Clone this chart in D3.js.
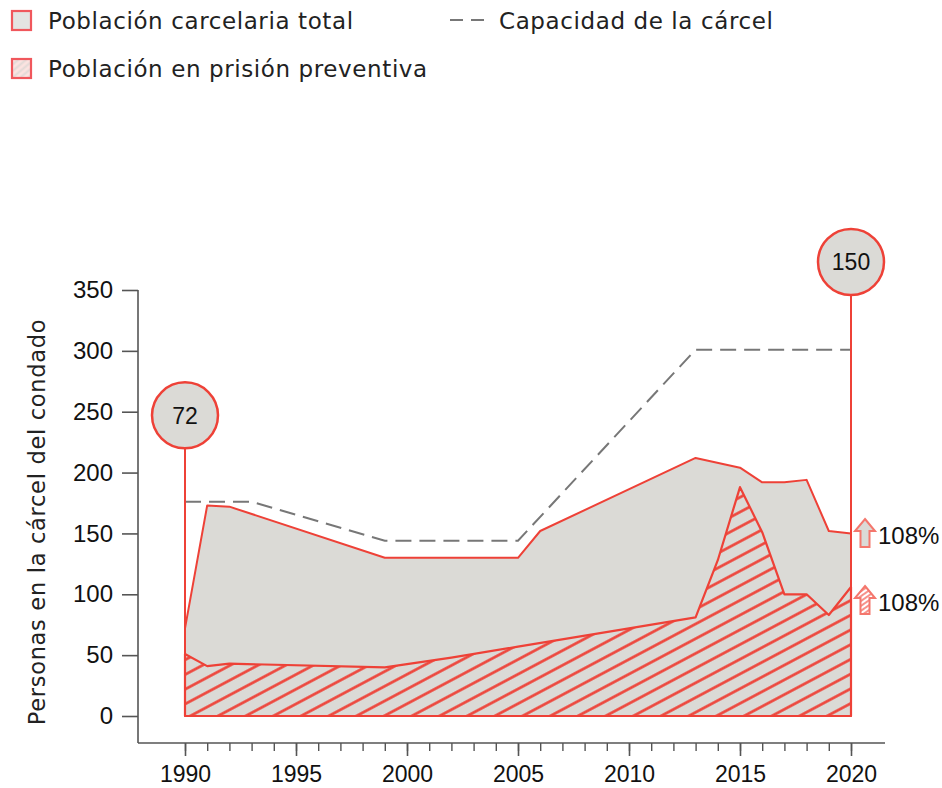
<!DOCTYPE html>
<html>
<head>
<meta charset="utf-8">
<script src="https://cdn.jsdelivr.net/npm/d3@7"></script>
<style>
  body { margin: 0; background: #fff; }
  svg { display: block; }
</style>
</head>
<body>
<div id="chart"></div>
<script>
/* Data */
var totalYears = [1990, 1991, 1992, 1999, 2005, 2006, 2013, 2015, 2016, 2017, 2018, 2019, 2020],
    totalValues = [72, 173, 172, 130, 130, 152, 212, 204, 192, 192, 194, 152, 150];

var pretrialYears = [1990, 1991, 1992, 1999, 2002, 2005, 2010, 2013, 2014, 2015, 2016, 2017, 2018, 2019, 2020],
    pretrialValues = [51, 41, 43, 40, 48, 57, 72, 81, 128, 188, 151, 100, 100, 83, 106];

var capacityYears = [1990, 1993, 1999, 2005, 2013, 2020],
    capacityValues = [176, 176, 144, 144, 301, 301];

var yTicks = [0, 50, 100, 150, 200, 250, 300, 350],
    xMajorTicks = [1990, 1995, 2000, 2005, 2010, 2015, 2020];

var legendLabels = ["Población carcelaria total", "Población en prisión preventiva", "Capacidad de la cárcel"],
    axisTitle = "Personas en la cárcel del condado",
    changeLabels = ["108%", "108%"];

/* Settings */
var width = 942,
    height = 788,
    red = "#ee4137",
    lightRed = "#f4776d",
    gray = "#dbdad6",
    axisColor = "#555",
    axisX = 138,
    axisY = 743,
    tickFont = "'Liberation Sans', Arial, sans-serif",
    textFont = "'DejaVu Sans', sans-serif";

var x = d3.scaleLinear().domain([1990, 2020]).range([185, 851]);
var y = d3.scaleLinear().domain([0, 350]).range([716, 290]);

var svg = d3.select("#chart").append("svg")
    .attr("width", width)
    .attr("height", height)
    .attr("viewBox", "0 0 " + width + " " + height);

var defs = svg.append("defs");

/* diagonal hatch for pretrial */
var hatch = defs.append("pattern")
    .attr("id", "hatch")
    .attr("patternUnits", "userSpaceOnUse")
    .attr("width", 20)
    .attr("height", 13)
    .attr("patternTransform", "rotate(-28)");
hatch.append("rect").attr("width", 20).attr("height", 13).attr("fill", gray);
hatch.append("line")
    .attr("x1", 0).attr("x2", 20).attr("y1", 6.5).attr("y2", 6.5)
    .attr("stroke", red).attr("stroke-width", 2.6);

/* fine hatch for the small legend box and arrow */
var fine = defs.append("pattern")
    .attr("id", "fine")
    .attr("patternUnits", "userSpaceOnUse")
    .attr("width", 6)
    .attr("height", 4)
    .attr("patternTransform", "rotate(-35)");
fine.append("rect").attr("width", 6).attr("height", 4).attr("fill", "#fff");
fine.append("line")
    .attr("x1", 0).attr("x2", 6).attr("y1", 2).attr("y2", 2)
    .attr("stroke", lightRed).attr("stroke-width", 1.6);

var legendHatch = defs.append("pattern")
    .attr("id", "legendHatch")
    .attr("patternUnits", "userSpaceOnUse")
    .attr("width", 6)
    .attr("height", 5)
    .attr("patternTransform", "rotate(-40)");
legendHatch.append("rect").attr("width", 6).attr("height", 5).attr("fill", "#fbe3e0");
legendHatch.append("line")
    .attr("x1", 0).attr("x2", 6).attr("y1", 2.5).attr("y2", 2.5)
    .attr("stroke", "#e2d9d6").attr("stroke-width", 2);

/* Legend */
var legend = svg.append("g");
legend.append("rect")
    .attr("x", 12).attr("y", 11).attr("width", 19).attr("height", 19)
    .attr("fill", "#e4e4e2").attr("stroke", "#f0575c").attr("stroke-width", 2.2);
legend.append("rect")
    .attr("x", 12).attr("y", 59).attr("width", 19).attr("height", 19)
    .attr("fill", "url(#legendHatch)").attr("stroke", "#f0575c").attr("stroke-width", 2.2);
legend.append("line")
    .attr("x1", 450).attr("x2", 484).attr("y1", 20).attr("y2", 20)
    .attr("stroke", "#777").attr("stroke-width", 2).attr("stroke-dasharray", "13,8");

legend.selectAll("text")
  .data([[48, 29, legendLabels[0]], [48, 77, legendLabels[1]], [499, 29, legendLabels[2]]])
  .enter().append("text")
    .attr("x", function(d) { return d[0]; })
    .attr("y", function(d) { return d[1]; })
    .attr("font-family", textFont)
    .attr("font-size", 23)
    .attr("letter-spacing", 0.6)
    .attr("fill", "#222")
    .text(function(d) { return d[2]; });

/* Areas */
var total = totalYears.map(function(d, i) { return [d, totalValues[i]]; });
var pretrial = pretrialYears.map(function(d, i) { return [d, pretrialValues[i]]; });
var capacity = capacityYears.map(function(d, i) { return [d, capacityValues[i]]; });

var area = d3.area()
    .x(function(d) { return x(d[0]); })
    .y0(y(0))
    .y1(function(d) { return y(d[1]); });

svg.append("path")
  .datum(total)
  .attr("fill", gray)
  .attr("stroke", red)
  .attr("stroke-width", 2)
  .attr("stroke-linejoin", "round")
  .attr("d", area);

svg.append("path")
  .datum(pretrial)
  .attr("fill", "url(#hatch)")
  .attr("stroke", red)
  .attr("stroke-width", 2.2)
  .attr("stroke-linejoin", "round")
  .attr("d", area);

svg.append("path")
  .datum(capacity)
  .attr("fill", "none")
  .attr("stroke", "#777")
  .attr("stroke-width", 2)
  .attr("stroke-dasharray", "16,8")
  .attr("d", d3.line()
    .x(function(d) { return x(d[0]); })
    .y(function(d) { return y(d[1]); }));

/* Axes */
var yAxis = svg.append("g")
    .attr("transform", "translate(" + axisX + ",0)")
    .call(d3.axisLeft(y).tickValues(yTicks).tickSize(16).tickPadding(9));
yAxis.select(".domain").remove();
yAxis.selectAll("line").attr("stroke", axisColor).attr("stroke-width", 1.6);
yAxis.selectAll("text")
    .attr("font-family", tickFont).attr("font-size", 24).attr("fill", "#111");

svg.append("line")
    .attr("x1", axisX).attr("x2", axisX)
    .attr("y1", y(350)).attr("y2", axisY)
    .attr("stroke", axisColor).attr("stroke-width", 1.6);

var xMinor = svg.append("g")
    .attr("transform", "translate(0," + axisY + ")")
    .call(d3.axisBottom(x).tickValues(d3.range(1990, 2021)).tickSize(8).tickFormat(""));
xMinor.select(".domain").remove();
xMinor.selectAll("line").attr("stroke", axisColor).attr("stroke-width", 1.4);

var xAxis = svg.append("g")
    .attr("transform", "translate(0," + axisY + ")")
    .call(d3.axisBottom(x).tickValues(xMajorTicks).tickSize(13).tickPadding(10).tickFormat(d3.format("d")));
xAxis.select(".domain").remove();
xAxis.selectAll("line").attr("stroke", axisColor).attr("stroke-width", 1.6);
xAxis.selectAll("text")
    .attr("font-family", tickFont).attr("font-size", 23).attr("fill", "#111");

svg.append("line")
    .attr("x1", axisX).attr("x2", 885)
    .attr("y1", axisY).attr("y2", axisY)
    .attr("stroke", axisColor).attr("stroke-width", 1.6);

svg.append("text")
    .attr("transform", "translate(45," + 522 + ") rotate(-90)")
    .attr("text-anchor", "middle")
    .attr("font-family", textFont)
    .attr("font-size", 22.5)
    .attr("letter-spacing", 0.7)
    .attr("fill", "#222")
    .text(axisTitle);

/* Start / end markers */
var markers = [[1990, totalValues[0], 247], [2020, totalValues[totalValues.length - 1], 373]];
var marker = svg.selectAll(".marker")
  .data(markers)
  .enter().append("g")
    .attr("class", "marker");

marker.append("line")
    .attr("x1", function(d) { return x(d[0]); })
    .attr("x2", function(d) { return x(d[0]); })
    .attr("y1", function(d) { return y(d[2]) + 33; })
    .attr("y2", y(0))
    .attr("stroke", red)
    .attr("stroke-width", 2);

marker.append("circle")
    .attr("cx", function(d) { return x(d[0]); })
    .attr("cy", function(d) { return y(d[2]); })
    .attr("r", 33)
    .attr("fill", gray)
    .attr("stroke", red)
    .attr("stroke-width", 2.5);

marker.append("text")
    .attr("x", function(d) { return x(d[0]); })
    .attr("y", function(d) { return y(d[2]); })
    .attr("dy", "0.36em")
    .attr("text-anchor", "middle")
    .attr("font-family", tickFont)
    .attr("font-size", 23)
    .attr("fill", "#111")
    .text(function(d) { return d[1]; });

/* Change arrows */
var arrowPath = "M0,0 L10,12 L4.5,12 L4.5,28 L-4.5,28 L-4.5,12 L-10,12 Z";
var arrows = [[totalValues[totalValues.length - 1], gray, changeLabels[0], 519],
              [pretrialValues[pretrialValues.length - 1], "url(#fine)", changeLabels[1], 586]];

var arrow = svg.selectAll(".arrow")
  .data(arrows)
  .enter().append("g")
    .attr("class", "arrow")
    .attr("transform", function(d) { return "translate(865," + d[3] + ")"; });

arrow.append("path")
    .attr("d", arrowPath)
    .attr("fill", function(d) { return d[1]; })
    .attr("stroke", lightRed)
    .attr("stroke-width", 2)
    .attr("stroke-linejoin", "miter");

arrow.append("text")
    .attr("x", 13)
    .attr("y", 25)
    .attr("font-family", tickFont)
    .attr("font-size", 24)
    .attr("fill", "#111")
    .text(function(d) { return d[2]; });
</script>
</body>
</html>
